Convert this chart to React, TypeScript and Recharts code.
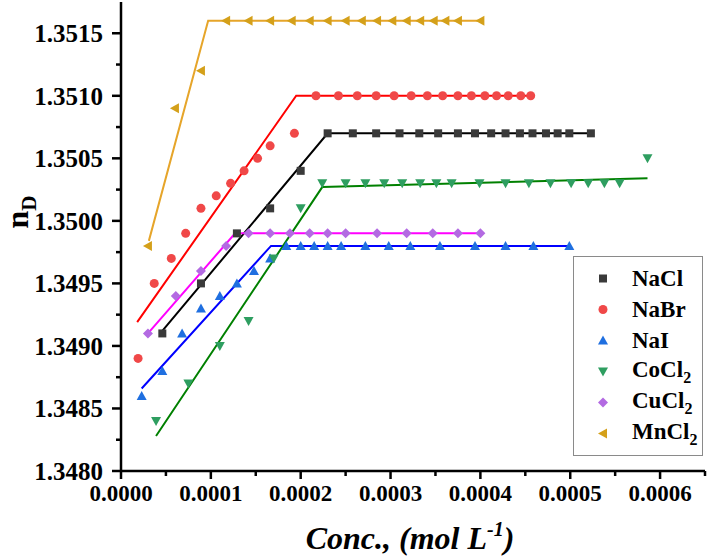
import React from "react";
import { ScatterChart, Scatter, XAxis, YAxis, Legend } from "recharts";

const FONT = "'Liberation Serif', 'Times New Roman', Times, serif";

// measured points (Conc. in mol/L, refractive index)
const naclX = [0.000046, 0.000089, 0.000129, 0.000166, 0.0002, 0.00023, 0.000258, 0.000284, 0.00031, 0.000332, 0.000353, 0.000375, 0.000394, 0.000412, 0.000428, 0.000444, 0.000458, 0.000473, 0.000486, 0.000499, 0.000523];
const naclY = [1.3491, 1.3495, 1.3499, 1.3501, 1.3504, 1.3507, 1.3507, 1.3507, 1.3507, 1.3507, 1.3507, 1.3507, 1.3507, 1.3507, 1.3507, 1.3507, 1.3507, 1.3507, 1.3507, 1.3507, 1.3507];

const nabrX = [0.000019, 0.000037, 0.000056, 0.000072, 0.000089, 0.000106, 0.000122, 0.000137, 0.000152, 0.000166, 0.000193, 0.000217, 0.000242, 0.000263, 0.000284, 0.000304, 0.000323, 0.000341, 0.000358, 0.000375, 0.00039, 0.000405, 0.000418, 0.000431, 0.000445, 0.000456];
const nabrY = [1.3489, 1.3495, 1.3497, 1.3499, 1.3501, 1.3502, 1.3503, 1.3504, 1.3505, 1.3506, 1.3507, 1.351, 1.351, 1.351, 1.351, 1.351, 1.351, 1.351, 1.351, 1.351, 1.351, 1.351, 1.351, 1.351, 1.351, 1.351];

const naiX = [0.000023, 0.000046, 0.000068, 0.000089, 0.00011, 0.000129, 0.000148, 0.000166, 0.000184, 0.0002, 0.000215, 0.00023, 0.000245, 0.000272, 0.000298, 0.000322, 0.000355, 0.000394, 0.000428, 0.000459, 0.000499];
const naiY = [1.3486, 1.3488, 1.3491, 1.3493, 1.3494, 1.3495, 1.3496, 1.3497, 1.3498, 1.3498, 1.3498, 1.3498, 1.3498, 1.3498, 1.3498, 1.3498, 1.3498, 1.3498, 1.3498, 1.3498, 1.3498];

const cocl2X = [0.000039, 0.000075, 0.00011, 0.000142, 0.00017, 0.0002, 0.000224, 0.00025, 0.000272, 0.000293, 0.000313, 0.000333, 0.000351, 0.000368, 0.000399, 0.000428, 0.000454, 0.000478, 0.000501, 0.00052, 0.000538, 0.000555, 0.000586];
const cocl2Y = [1.3484, 1.3487, 1.349, 1.3492, 1.3497, 1.3501, 1.3503, 1.3503, 1.3503, 1.3503, 1.3503, 1.3503, 1.3503, 1.3503, 1.3503, 1.3503, 1.3503, 1.3503, 1.3503, 1.3503, 1.3503, 1.3503, 1.3505];

const cucl2X = [0.00003, 0.000061, 0.000089, 0.000117, 0.000142, 0.000166, 0.000188, 0.00021, 0.00023, 0.00025, 0.000285, 0.000318, 0.000347, 0.000375, 0.0004];
const cucl2Y = [1.3491, 1.3494, 1.3496, 1.3498, 1.3499, 1.3499, 1.3499, 1.3499, 1.3499, 1.3499, 1.3499, 1.3499, 1.3499, 1.3499, 1.3499];

const mncl2X = [0.00003, 0.00006, 0.000089, 0.000117, 0.000142, 0.000166, 0.00019, 0.00021, 0.00023, 0.00025, 0.000268, 0.000285, 0.000302, 0.000318, 0.000333, 0.000348, 0.000361, 0.000375, 0.0004];
const mncl2Y = [1.3498, 1.3509, 1.3512, 1.3516, 1.3516, 1.3516, 1.3516, 1.3516, 1.3516, 1.3516, 1.3516, 1.3516, 1.3516, 1.3516, 1.3516, 1.3516, 1.3516, 1.3516, 1.3516];

// two-segment fits (start, break point, end)
const naclFitX = [0.000046, 0.00023, 0.000523];
const naclFitY = [1.34912, 1.3507, 1.3507];
const nabrFitX = [0.000018, 0.000195, 0.000456];
const nabrFitY = [1.34919, 1.351, 1.351];
const naiFitX = [0.000023, 0.000167, 0.0005];
const naiFitY = [1.34866, 1.3498, 1.3498];
const cocl2FitX = [0.000039, 0.000224, 0.000586];
const cocl2FitY = [1.34828, 1.35027, 1.35034];
const cucl2FitX = [0.00003, 0.000127, 0.0004];
const cucl2FitY = [1.3491, 1.3499, 1.3499];
const mncl2FitX = [0.000031, 0.000097, 0.0004];
const mncl2FitY = [1.34984, 1.3516, 1.3516];

const xTicks = [0, 0.00005, 0.0001, 0.00015, 0.0002, 0.00025, 0.0003, 0.00035, 0.0004, 0.00045, 0.0005, 0.00055, 0.0006, 0.00065];
const yTicks = [1.348, 1.34825, 1.3485, 1.34875, 1.349, 1.34925, 1.3495, 1.34975, 1.35, 1.35025, 1.3505, 1.35075, 1.351, 1.35125, 1.3515];

const pts = (xs: number[], ys: number[]) => xs.map((x, i) => ({ x, y: ys[i] }));

type P = { cx?: number; cy?: number };

const Square = ({ cx = 0, cy = 0 }: P) => (
  <rect x={cx - 4} y={cy - 4} width={8} height={8} fill="#3a3a3a" />
);
const Dot = ({ cx = 0, cy = 0 }: P) => <circle cx={cx} cy={cy} r={4.5} fill="#f04848" />;
const TriUp = ({ cx = 0, cy = 0 }: P) => (
  <polygon points={`${cx},${cy - 5} ${cx + 5},${cy + 4} ${cx - 5},${cy + 4}`} fill="#1f6fe0" />
);
const TriDown = ({ cx = 0, cy = 0 }: P) => (
  <polygon points={`${cx - 5},${cy - 4} ${cx + 5},${cy - 4} ${cx},${cy + 5}`} fill="#2e9e60" />
);
const Diamond = ({ cx = 0, cy = 0 }: P) => (
  <polygon points={`${cx},${cy - 5} ${cx + 5},${cy} ${cx},${cy + 5} ${cx - 5},${cy}`} fill="#b36ae2" />
);
const TriLeft = ({ cx = 0, cy = 0 }: P) => (
  <polygon points={`${cx - 5},${cy} ${cx + 4},${cy - 5} ${cx + 4},${cy + 5}`} fill="#d4a01a" />
);
const Nothing = () => <g />;

const series = [
  { name: "NaCl", base: "NaCl", sub: "", xs: naclX, ys: naclY, fx: naclFitX, fy: naclFitY, line: "#000000", Shape: Square },
  { name: "NaBr", base: "NaBr", sub: "", xs: nabrX, ys: nabrY, fx: nabrFitX, fy: nabrFitY, line: "#ff0000", Shape: Dot },
  { name: "NaI", base: "NaI", sub: "", xs: naiX, ys: naiY, fx: naiFitX, fy: naiFitY, line: "#0000ff", Shape: TriUp },
  { name: "CoCl2", base: "CoCl", sub: "2", xs: cocl2X, ys: cocl2Y, fx: cocl2FitX, fy: cocl2FitY, line: "#008000", Shape: TriDown },
  { name: "CuCl2", base: "CuCl", sub: "2", xs: cucl2X, ys: cucl2Y, fx: cucl2FitX, fy: cucl2FitY, line: "#ff00ff", Shape: Diamond },
  { name: "MnCl2", base: "MnCl", sub: "2", xs: mncl2X, ys: mncl2Y, fx: mncl2FitX, fy: mncl2FitY, line: "#e6a52a", Shape: TriLeft },
];

const txt = { fontFamily: FONT, fontWeight: 700 } as const;

const XTick = (props: any) => {
  const { x, y, payload } = props;
  const v = payload.value as number;
  const major = Math.round(v / 0.00005) % 2 === 0;
  return (
    <g>
      <line x1={x} x2={x} y1={y} y2={y + (major ? 8 : 5)} stroke="#000" strokeWidth={2.5} />
      {major && (
        <text x={x} y={y + 30} textAnchor="middle" style={{ ...txt, fontSize: 23 }} fill="#000">
          {v.toFixed(4)}
        </text>
      )}
    </g>
  );
};

const YTick = (props: any) => {
  const { x, y, payload } = props;
  const v = payload.value as number;
  const major = Math.round((v - 1.348) / 0.00025) % 2 === 0;
  return (
    <g>
      <line x1={x} x2={x - (major ? 9 : 5)} y1={y} y2={y} stroke="#000" strokeWidth={2.5} />
      {major && (
        <text x={x - 18} y={y} dy="0.35em" textAnchor="end" style={{ ...txt, fontSize: 25 }} fill="#000">
          {v.toFixed(4)}
        </text>
      )}
    </g>
  );
};

const LegendBox = () => (
  <div
    style={{
      width: 128,
      border: "1px solid #8a8a8a",
      background: "#fff",
      padding: "6px 0",
      ...txt,
      fontSize: 23,
      color: "#000",
    }}
  >
    {series.map((s) => (
      <div key={s.name} style={{ height: 31, display: "flex", alignItems: "center" }}>
        <svg width={58} height={31}>
          <s.Shape cx={29} cy={15.5} />
        </svg>
        <span>
          {s.base}
          {s.sub && <sub style={{ fontSize: 16, verticalAlign: "-6px" }}>{s.sub}</sub>}
        </span>
      </div>
    ))}
  </div>
);

export default function App() {
  return (
    <div style={{ position: "absolute", left: 0, top: 0, width: 708, height: 560, background: "#fff" }}>
      <ScatterChart width={708} height={560} margin={{ top: 2, right: 3, left: 0, bottom: 0 }}>
        <XAxis
          type="number"
          dataKey="x"
          domain={[0, 0.00065]}
          allowDataOverflow
          ticks={xTicks}
          interval={0}
          height={89}
          tickSize={0}
          tickMargin={0}
          tickLine={false}
          tick={<XTick />}
          axisLine={{ stroke: "#000", strokeWidth: 2.5 }}
          label={{
            content: () => (
              <text x={410} y={549} textAnchor="middle" style={{ ...txt, fontStyle: "italic", fontSize: 32 }} fill="#000">
                Conc., (mol L<tspan dy={-13} style={{ fontSize: 20 }}>-1</tspan>
                <tspan dy={13}>)</tspan>
              </text>
            ),
          }}
        />
        <YAxis
          type="number"
          dataKey="y"
          domain={[1.348, 1.35175]}
          allowDataOverflow
          ticks={yTicks}
          interval={0}
          width={121}
          tickSize={0}
          tickMargin={0}
          tickLine={false}
          tick={<YTick />}
          axisLine={{ stroke: "#000", strokeWidth: 2.5 }}
          label={{
            content: () => (
              <text x={28} y={212} transform="rotate(-90, 28, 212)" textAnchor="middle" style={{ ...txt, fontSize: 32 }} fill="#000">
                n<tspan dy={8} style={{ fontSize: 21 }}>D</tspan>
              </text>
            ),
          }}
        />
        {series.map((s) => (
          <Scatter
            key={s.name + "-fit"}
            name={s.name + " fit"}
            data={pts(s.fx, s.fy)}
            line={{ stroke: s.line, strokeWidth: 2 }}
            shape={<Nothing />}
            legendType="none"
            isAnimationActive={false}
          />
        ))}
        {series.map((s) => (
          <Scatter
            key={s.name}
            name={s.name}
            data={pts(s.xs, s.ys)}
            shape={(p: any) => <s.Shape cx={p.cx} cy={p.cy} />}
            isAnimationActive={false}
          />
        ))}
        <Legend
          layout="vertical"
          align="center"
          verticalAlign="middle"
          content={() => <LegendBox />}
          wrapperStyle={{ left: 573, top: 256, width: 130 }}
        />
      </ScatterChart>
    </div>
  );
}
